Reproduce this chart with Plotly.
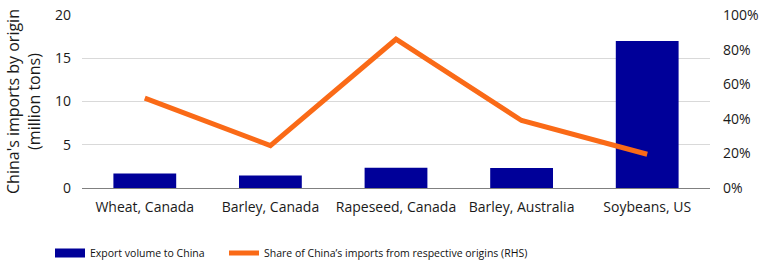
import plotly.graph_objects as go

categories = ["Wheat, Canada", "Barley, Canada", "Rapeseed, Canada", "Barley, Australia", "Soybeans, US"]
export_volume = [1.68, 1.45, 2.33, 2.3, 17.0]
import_share = [52, 24.5, 86, 39, 19.5]

bar_color = "#000099"
line_color = "#FA6A17"
bar_name = "Export volume to China"
line_name = "Share of China\u2019s imports from respective origins (RHS)"

fig = go.Figure()
fig.add_trace(go.Bar(
    x=categories, y=export_volume, name=bar_name, showlegend=False,
    marker=dict(color=bar_color, line=dict(width=0)), yaxis="y"))
fig.add_trace(go.Scatter(
    x=categories, y=import_share, name=line_name, legend="legend2",
    mode="lines", line=dict(color=line_color, width=5), yaxis="y2"))
# legend swatch for bars (wide rectangle like the reference)
fig.add_trace(go.Scatter(
    x=[None], y=[None], name=bar_name, mode="lines",
    line=dict(color=bar_color, width=9), legend="legend"))

font = "Open Sans, Noto Sans, sans-serif"
legend_font = dict(family=font, size=10.5, color="#111111")
fig.update_layout(
    width=771, height=273,
    margin=dict(l=82, r=61, t=15, b=85, autoexpand=False),
    paper_bgcolor="white", plot_bgcolor="white",
    font=dict(family=font, size=14, color="#1a1a1a"),
    bargap=0.5,
    showlegend=True,
    legend=dict(orientation="h", xref="container", yref="container",
                x=50/771, y=1-253/273, xanchor="left", yanchor="middle",
                font=legend_font, itemwidth=30, bgcolor="rgba(0,0,0,0)"),
    legend2=dict(orientation="h", xref="container", yref="container",
                 x=224/771, y=1-253/273, xanchor="left", yanchor="middle",
                 font=legend_font, itemwidth=30, bgcolor="rgba(0,0,0,0)"),
    xaxis=dict(showline=True, linecolor="#808080", linewidth=1, ticks="",
               tickfont=dict(size=14), ticklabelstandoff=6, automargin=False),
    yaxis=dict(range=[0, 20], dtick=5, showgrid=True, gridcolor="#d9d9d9",
               zeroline=False, ticks="", ticklabelstandoff=10, automargin=False,
               title=dict(text="China's imports by origin<br>(million tons)", font=dict(size=16), standoff=10)),
    yaxis2=dict(range=[0, 100], dtick=20, overlaying="y", side="right",
                showgrid=False, zeroline=False, ticksuffix="%", ticks="",
                ticklabelstandoff=12, automargin=False),
)
fig.write_html("out.html")
